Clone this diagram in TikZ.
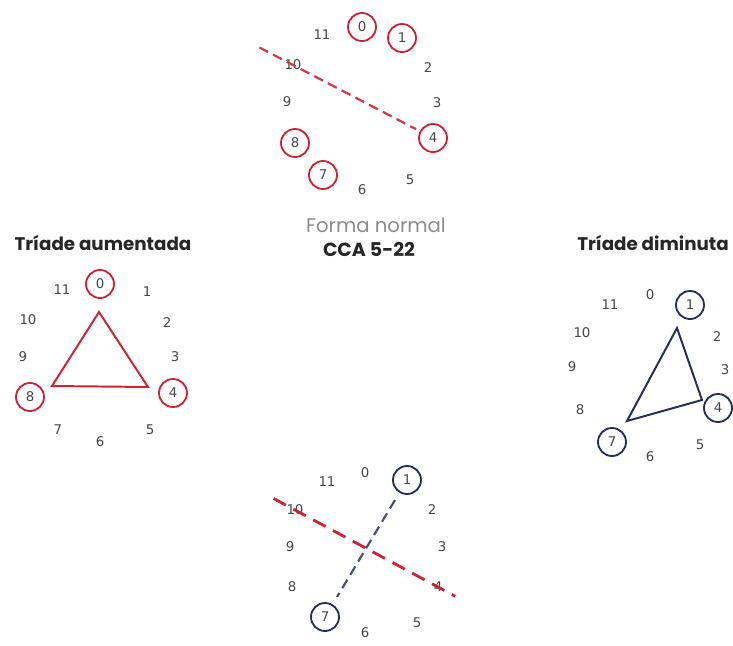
\documentclass[tikz,border=0pt]{standalone}
\usepackage{fontspec}
\setmainfont{Poppins}
\newfontfamily\numfont{DejaVu Sans}
\usepackage{xcolor}
\usetikzlibrary{calc}
\definecolor{pcred}{RGB}{204,36,52}
\definecolor{pcblue}{RGB}{38,46,88}
\definecolor{numgray}{RGB}{70,70,70}
\definecolor{fngray}{RGB}{140,140,140}

\begin{document}
\begin{tikzpicture}[x=0.025cm,y=-0.025cm,
  num/.style={font=\numfont\fontsize{9.5}{11}\selectfont,text=numgray,inner sep=1pt},
  rc/.style={num,draw=pcred,circle,line width=1.3pt,minimum size=0.7cm},
  bc/.style={num,draw=pcblue,circle,line width=1.3pt,minimum size=0.7cm},
  ttl/.style={font=\bfseries\fontsize{13}{15}\selectfont,text=black!85}]
  \useasboundingbox (0,0) rectangle (733,646);
  %% Forma normal (top)
  \begin{scope}[shift={(362,108)}]
    \node[rc]  (t0)  at (0,-81)   {0};
    \node[rc]  (t1)  at (40,-70)  {1};
    \node[num] (t2)  at (66,-40)  {2};
    \node[num] (t3)  at (75,-5)   {3};
    \node[rc]  (t4)  at (71,30)   {4};
    \node[num] (t5)  at (48,72)   {5};
    \node[num] (t6)  at (0,82)    {6};
    \node[rc]  (t7)  at (-39,67)  {7};
    \node[rc]  (t8)  at (-67,35)  {8};
    \node[num] (t9)  at (-75,-6)  {9};
    \node[num] (t10) at (-69,-43) {10};
    \node[num] (t11) at (-40,-73) {11};
    % axis 10-4
    \draw[pcred!90,line width=1.6pt,dash pattern=on 7pt off 4pt,shorten >=3pt]
      ($(t10)!-0.24!(t4)$) -- (t4);
  \end{scope}
  \node[font=\fontsize{14}{16}\selectfont,text=fngray] (fn) at (376,225) {Forma normal};
  \node[ttl,font=\bfseries\fontsize{13.5}{15}\selectfont] (cca) at (369,249) {CCA 5-22};
  %% Triade aumentada (left)
  \node[ttl] (aug) at (103,243) {Tríade aumentada};
  \begin{scope}[shift={(100,362)}]
    \node[rc]  (a0)  at (0,-78)   {0};
    \node[num] (a1)  at (47,-70)  {1};
    \node[num] (a2)  at (67,-39)  {2};
    \node[num] (a3)  at (75,-5)   {3};
    \node[rc]  (a4)  at (73,31)   {4};
    \node[num] (a5)  at (50,68)   {5};
    \node[num] (a6)  at (0,80)    {6};
    \node[num] (a7)  at (-42,68)  {7};
    \node[rc]  (a8)  at (-70,35)  {8};
    \node[num] (a9)  at (-77,-5)  {9};
    \node[num] (a10) at (-72,-42) {10};
    \node[num] (a11) at (-38,-72) {11};
    \coordinate (av0) at (-1,-50);
    \coordinate (av4) at (48,25);
    \coordinate (av8) at (-48,24);
    \draw[pcred,line width=1.4pt] (av0) -- (av4) -- (av8) -- cycle;
  \end{scope}
  %% Triade diminuta (right)
  \node[ttl] (dim) at (653,243) {Tríade diminuta};
  \begin{scope}[shift={(648,376)}]
    \node[num] (d0)  at (2,-81)   {0};
    \node[bc]  (d1)  at (42,-71)  {1};
    \node[num] (d2)  at (69,-39)  {2};
    \node[num] (d3)  at (77,-6)   {3};
    \node[bc]  (d4)  at (70,32)   {4};
    \node[num] (d5)  at (52,69)   {5};
    \node[num] (d6)  at (2,81)    {6};
    \node[bc]  (d7)  at (-36,66)  {7};
    \node[num] (d8)  at (-68,34)  {8};
    \node[num] (d9)  at (-76,-9)  {9};
    \node[num] (d10) at (-66,-43) {10};
    \node[num] (d11) at (-38,-71) {11};
    \coordinate (dv1) at (29,-48);
    \coordinate (dv4) at (54,24);
    \coordinate (dv7) at (-21,45);
    \draw[pcblue,line width=1.4pt] (dv1) -- (dv4) -- (dv7) -- cycle;
  \end{scope}
  %% Bottom: axis 10-4 and interval 1-7
  \begin{scope}[shift={(366,553)}]
    \node[num] (b0)  at (-1,-80)  {0};
    \node[bc]  (b1)  at (41,-73)  {1};
    \node[num] (b2)  at (66,-43)  {2};
    \node[num] (b3)  at (76,-6)   {3};
    \node[num] (b4)  at (72,34)   {4};
    \node[num] (b5)  at (51,70)   {5};
    \node[num] (b6)  at (-1,80)   {6};
    \node[bc]  (b7)  at (-41,64)  {7};
    \node[num] (b8)  at (-74,34)  {8};
    \node[num] (b9)  at (-76,-6)  {9};
    \node[num] (b10) at (-71,-43) {10};
    \node[num] (b11) at (-39,-71) {11};
    \draw[pcblue!85,line width=1.5pt,dash pattern=on 7pt off 4pt,
      shorten <=6pt,shorten >=6pt] (b1) -- (b7);
    \draw[pcred,line width=2pt,dash pattern=on 10pt off 6pt]
      ($(b10)!-0.15!(b4)$) -- ($(b10)!1.12!(b4)$);
  \end{scope}
\end{tikzpicture}
\end{document}
